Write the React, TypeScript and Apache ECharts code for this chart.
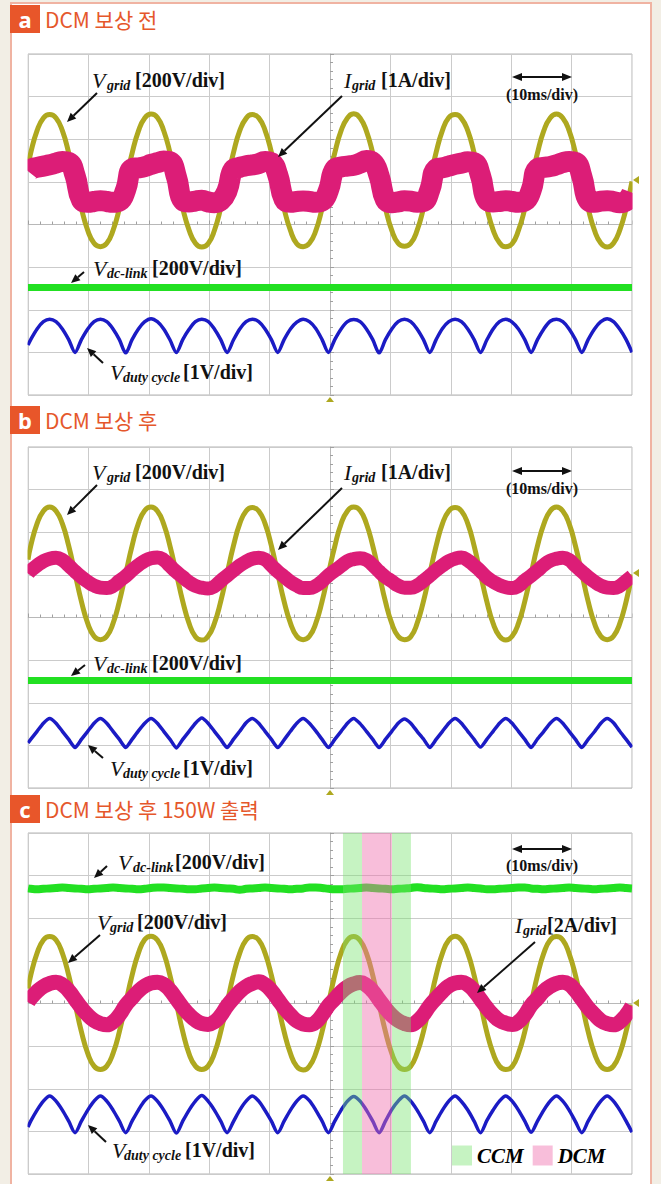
import React, { useEffect, useRef } from 'react';
import * as echarts from 'echarts';

// Sample times (ms, relative to screen centre) — 22.5° steps of the 60 Hz grid period, edges at the screen limits
const T = [
  -50.0, -49.55, -48.5, -47.45, -46.41, -45.36, -44.31, -43.26, -42.21, -41.16, -40.11, -39.06, -38.01, -36.96, -35.92, -34.87,
  -33.82, -32.77, -31.72, -30.67, -29.63, -28.58, -27.53, -26.48, -25.43, -24.38, -23.33, -22.28, -21.23, -20.19, -19.14, -18.09,
  -17.04, -15.99, -14.94, -13.89, -12.85, -11.8, -10.75, -9.7, -8.65, -7.6, -6.55, -5.5, -4.45, -3.41, -2.36, -1.31,
  -0.26, 0.79, 1.84, 2.89, 3.93, 4.98, 6.03, 7.08, 8.13, 9.18, 10.23, 11.28, 12.33, 13.37, 14.42, 15.47,
  16.52, 17.57, 18.62, 19.67, 20.71, 21.76, 22.81, 23.86, 24.91, 25.96, 27.01, 28.06, 29.1, 30.15, 31.2, 32.25,
  33.3, 34.35, 35.4, 36.45, 37.5, 38.54, 39.59, 40.64, 41.69, 42.74, 43.79, 44.84, 45.89, 46.93, 47.98, 49.03,
  50.0,
];

// Panel a (values in divisions)
const vGridA = [
  1.36, 1.68, 2.2, 2.5, 2.58, 2.5, 2.2, 1.68, 1.03, 0.38, -0.14, -0.44, -0.52, -0.44, -0.14, 0.38,
  1.03, 1.67, 2.19, 2.5, 2.59, 2.51, 2.2, 1.68, 1.03, 0.38, -0.13, -0.44, -0.53, -0.45, -0.14, 0.39,
  1.04, 1.68, 2.2, 2.49, 2.58, 2.5, 2.21, 1.69, 1.03, 0.37, -0.14, -0.45, -0.52, -0.44, -0.15, 0.38,
  1.03, 1.68, 2.2, 2.5, 2.6, 2.5, 2.19, 1.67, 1.02, 0.38, -0.14, -0.44, -0.51, -0.44, -0.14, 0.38,
  1.03, 1.69, 2.21, 2.51, 2.58, 2.49, 2.2, 1.68, 1.03, 0.39, -0.13, -0.43, -0.52, -0.45, -0.14, 0.37,
  1.03, 1.68, 2.2, 2.5, 2.59, 2.5, 2.2, 1.68, 1.04, 0.38, -0.14, -0.44, -0.53, -0.44, -0.13, 0.38,
  1.01,
];
const iGridA = [
  1.25, 1.3, 1.34, 1.37, 1.4, 1.44, 1.48, 1.46, 1.15, 0.58, 0.52, 0.54, 0.56, 0.54, 0.52, 0.55,
  0.82, 1.31, 1.33, 1.36, 1.41, 1.45, 1.49, 1.47, 1.12, 0.57, 0.53, 0.55, 0.57, 0.53, 0.51, 0.56,
  0.79, 1.29, 1.34, 1.38, 1.4, 1.43, 1.48, 1.45, 1.16, 0.59, 0.52, 0.54, 0.55, 0.54, 0.52, 0.55,
  0.8, 1.3, 1.35, 1.37, 1.39, 1.44, 1.5, 1.46, 1.14, 0.58, 0.51, 0.53, 0.56, 0.55, 0.52, 0.54,
  0.81, 1.3, 1.33, 1.37, 1.41, 1.44, 1.47, 1.45, 1.15, 0.58, 0.53, 0.54, 0.56, 0.54, 0.52, 0.55,
  0.8, 1.31, 1.34, 1.36, 1.4, 1.45, 1.48, 1.46, 1.13, 0.57, 0.52, 0.55, 0.56, 0.54, 0.51, 0.55,
  0.75,
];
const dutyA = [
  -2.83, -2.7, -2.45, -2.28, -2.22, -2.28, -2.45, -2.7, -3.0, -2.7, -2.45, -2.28, -2.22, -2.28, -2.45, -2.7,
  -3.01, -2.7, -2.45, -2.28, -2.21, -2.28, -2.45, -2.71, -3.0, -2.7, -2.46, -2.28, -2.22, -2.27, -2.45, -2.7,
  -3.0, -2.71, -2.45, -2.28, -2.22, -2.28, -2.45, -2.7, -3.0, -2.7, -2.45, -2.29, -2.22, -2.28, -2.44, -2.7,
  -3.0, -2.7, -2.45, -2.28, -2.23, -2.28, -2.45, -2.7, -3.01, -2.7, -2.45, -2.28, -2.22, -2.28, -2.45, -2.7,
  -3.0, -2.7, -2.44, -2.28, -2.22, -2.28, -2.45, -2.7, -3.0, -2.71, -2.45, -2.28, -2.22, -2.29, -2.45, -2.7,
  -3.0, -2.7, -2.45, -2.27, -2.22, -2.28, -2.45, -2.7, -3.0, -2.7, -2.45, -2.28, -2.21, -2.28, -2.46, -2.7,
  -3.0,
];
const DC_T = [-50, 50];
const dcLinkA = [-1.48, -1.48];

// Panel b
const vGridB = [
  1.36, 1.68, 2.2, 2.5, 2.59, 2.5, 2.2, 1.68, 1.03, 0.38, -0.14, -0.44, -0.52, -0.44, -0.14, 0.38,
  1.03, 1.68, 2.21, 2.51, 2.59, 2.5, 2.19, 1.67, 1.03, 0.38, -0.14, -0.45, -0.53, -0.44, -0.14, 0.38,
  1.03, 1.68, 2.2, 2.5, 2.58, 2.5, 2.2, 1.68, 1.03, 0.38, -0.13, -0.44, -0.52, -0.44, -0.14, 0.38,
  1.03, 1.67, 2.2, 2.5, 2.59, 2.51, 2.2, 1.68, 1.03, 0.37, -0.14, -0.44, -0.52, -0.45, -0.14, 0.38,
  1.03, 1.68, 2.2, 2.5, 2.58, 2.5, 2.2, 1.68, 1.02, 0.38, -0.14, -0.44, -0.53, -0.44, -0.14, 0.38,
  1.03, 1.68, 2.19, 2.5, 2.59, 2.5, 2.2, 1.68, 1.03, 0.38, -0.14, -0.44, -0.52, -0.44, -0.14, 0.38,
  1.01,
];
const iGridB = [
  1.03, 1.1, 1.22, 1.32, 1.38, 1.4, 1.35, 1.22, 1.08, 0.95, 0.84, 0.75, 0.7, 0.69, 0.74, 0.86,
  0.97, 1.11, 1.23, 1.33, 1.39, 1.41, 1.35, 1.21, 1.07, 0.95, 0.83, 0.74, 0.7, 0.68, 0.73, 0.86,
  0.98, 1.1, 1.22, 1.31, 1.38, 1.4, 1.36, 1.22, 1.08, 0.96, 0.84, 0.75, 0.69, 0.69, 0.74, 0.85,
  0.99, 1.1, 1.21, 1.32, 1.37, 1.39, 1.35, 1.23, 1.08, 0.95, 0.85, 0.75, 0.7, 0.7, 0.75, 0.86,
  0.98, 1.11, 1.22, 1.32, 1.38, 1.41, 1.34, 1.22, 1.09, 0.94, 0.84, 0.76, 0.71, 0.69, 0.74, 0.87,
  0.98, 1.1, 1.23, 1.33, 1.38, 1.4, 1.35, 1.21, 1.08, 0.95, 0.84, 0.75, 0.7, 0.69, 0.74, 0.86,
  0.97,
];
const dutyB = [
  -2.94, -2.86, -2.67, -2.48, -2.37, -2.48, -2.67, -2.86, -3.05, -2.86, -2.67, -2.48, -2.37, -2.48, -2.67, -2.86,
  -3.05, -2.86, -2.66, -2.48, -2.37, -2.48, -2.67, -2.86, -3.06, -2.86, -2.67, -2.48, -2.36, -2.48, -2.67, -2.86,
  -3.05, -2.86, -2.67, -2.47, -2.37, -2.48, -2.67, -2.86, -3.05, -2.87, -2.67, -2.48, -2.37, -2.48, -2.66, -2.86,
  -3.05, -2.86, -2.67, -2.48, -2.37, -2.49, -2.67, -2.86, -3.05, -2.86, -2.67, -2.48, -2.38, -2.48, -2.67, -2.85,
  -3.05, -2.86, -2.67, -2.48, -2.37, -2.48, -2.67, -2.86, -3.04, -2.86, -2.67, -2.48, -2.37, -2.48, -2.67, -2.86,
  -3.05, -2.85, -2.67, -2.48, -2.37, -2.48, -2.67, -2.86, -3.05, -2.86, -2.68, -2.48, -2.37, -2.47, -2.67, -2.86,
  -3.04,
];
const dcLinkB = [-1.48, -1.48];

// Panel c
const vGridC = [
  0.35, 0.66, 1.18, 1.49, 1.57, 1.49, 1.18, 0.66, 0.0, -0.66, -1.17, -1.47, -1.55, -1.47, -1.17, -0.66,
  0.01, 0.66, 1.18, 1.5, 1.58, 1.49, 1.18, 0.65, 0.0, -0.66, -1.18, -1.47, -1.55, -1.47, -1.17, -0.66,
  0.0, 0.67, 1.18, 1.49, 1.57, 1.49, 1.18, 0.66, 0.0, -0.66, -1.17, -1.48, -1.56, -1.47, -1.17, -0.66,
  0.0, 0.66, 1.19, 1.49, 1.57, 1.48, 1.18, 0.66, -0.01, -0.66, -1.17, -1.47, -1.55, -1.47, -1.16, -0.66,
  0.0, 0.66, 1.18, 1.49, 1.58, 1.49, 1.18, 0.66, 0.0, -0.67, -1.17, -1.47, -1.55, -1.48, -1.17, -0.66,
  0.0, 0.66, 1.18, 1.49, 1.57, 1.49, 1.17, 0.66, 0.0, -0.66, -1.17, -1.47, -1.55, -1.47, -1.17, -0.65,
  -0.03,
];
const iGridC = [
  0.03, 0.12, 0.28, 0.4, 0.47, 0.5, 0.44, 0.3, 0.1, -0.1, -0.27, -0.4, -0.47, -0.5, -0.43, -0.27,
  -0.04, 0.13, 0.29, 0.41, 0.48, 0.5, 0.45, 0.31, 0.11, -0.09, -0.26, -0.39, -0.47, -0.49, -0.43, -0.28,
  -0.06, 0.12, 0.28, 0.4, 0.47, 0.51, 0.44, 0.3, 0.1, -0.1, -0.27, -0.41, -0.48, -0.5, -0.44, -0.27,
  -0.05, 0.11, 0.27, 0.39, 0.46, 0.49, 0.43, 0.29, 0.09, -0.11, -0.28, -0.4, -0.47, -0.5, -0.42, -0.26,
  -0.05, 0.12, 0.28, 0.41, 0.48, 0.5, 0.44, 0.3, 0.1, -0.1, -0.27, -0.4, -0.46, -0.49, -0.43, -0.27,
  -0.04, 0.12, 0.29, 0.4, 0.47, 0.5, 0.45, 0.3, 0.1, -0.1, -0.26, -0.4, -0.47, -0.5, -0.43, -0.27,
  -0.06,
];
const dutyC = [
  -2.9, -2.76, -2.5, -2.29, -2.17, -2.29, -2.5, -2.76, -3.03, -2.76, -2.5, -2.29, -2.17, -2.29, -2.5, -2.76,
  -3.03, -2.76, -2.5, -2.28, -2.17, -2.29, -2.5, -2.76, -3.04, -2.76, -2.5, -2.29, -2.16, -2.29, -2.5, -2.76,
  -3.03, -2.77, -2.5, -2.29, -2.17, -2.29, -2.51, -2.76, -3.03, -2.76, -2.5, -2.29, -2.17, -2.28, -2.5, -2.76,
  -3.03, -2.76, -2.5, -2.29, -2.18, -2.29, -2.5, -2.76, -3.03, -2.76, -2.49, -2.29, -2.17, -2.29, -2.5, -2.76,
  -3.03, -2.76, -2.5, -2.29, -2.17, -2.3, -2.5, -2.76, -3.03, -2.75, -2.5, -2.29, -2.17, -2.29, -2.5, -2.76,
  -3.02, -2.76, -2.5, -2.29, -2.17, -2.29, -2.5, -2.77, -3.03, -2.76, -2.5, -2.29, -2.17, -2.29, -2.5, -2.76,
  -3.02,
];
const dcLinkC = [
  2.7, 2.69, 2.68, 2.69, 2.7, 2.71, 2.72, 2.71, 2.7, 2.69, 2.68, 2.69, 2.7, 2.71, 2.72, 2.71,
  2.7, 2.69, 2.68, 2.69, 2.71, 2.72, 2.72, 2.71, 2.7, 2.69, 2.68, 2.68, 2.7, 2.71, 2.72, 2.71,
  2.7, 2.69, 2.67, 2.69, 2.7, 2.71, 2.72, 2.71, 2.7, 2.69, 2.68, 2.69, 2.7, 2.72, 2.72, 2.71,
  2.69, 2.68, 2.68, 2.69, 2.7, 2.71, 2.72, 2.71, 2.7, 2.69, 2.68, 2.69, 2.7, 2.71, 2.73, 2.71,
  2.7, 2.69, 2.68, 2.69, 2.7, 2.71, 2.72, 2.71, 2.7, 2.68, 2.68, 2.69, 2.7, 2.71, 2.72, 2.72,
  2.7, 2.69, 2.68, 2.69, 2.7, 2.71, 2.72, 2.71, 2.7, 2.69, 2.68, 2.69, 2.7, 2.71, 2.72, 2.71,
  2.7,
];

// Operating-mode spans in panel c (ms)
const CCM_SPANS = [[2.15, 5.3], [10.26, 13.4]];
const DCM_SPANS = [[5.3, 10.26]];

const PANEL_LETTERS = ['a', 'b', 'c'];
const PANEL_TITLES = ['DCM 보상 전', 'DCM 보상 후', 'DCM 보상 후 150W 출력'];
const TIME_SCALE = '(10ms/div)';

const X_MIN = -50, X_MAX = 50, X_STEP = 10;
const Y_MIN = -4, Y_MAX = 4, Y_STEP = 1;

const OLIVE = '#aea81f';
const PINK = '#dc1d77';
const GREEN = '#22e022';
const BLUE = '#1b1bc4';
const SERIF = '"Liberation Serif", "Times New Roman", serif';

const GRID_TOPS = [54, 447, 833];
const GRID_LEFT = 28, GRID_W = 604, GRID_H = 341;

const zip = (ts: number[], vs: number[]) => ts.map((t, i) => [t, vs[i]]);

function lineSeries(gi: number, name: string, data: number[][], color: string, width: number, smooth: number | boolean, z: number) {
  return {
    type: 'line', name, xAxisIndex: gi, yAxisIndex: gi, data,
    symbol: 'none', showSymbol: false, smooth, silent: true, z,
    lineStyle: { color, width, join: 'round', cap: 'butt' },
    itemStyle: { color },
  };
}

function arrow(x1: number, y1: number, x2: number, y2: number) {
  const dx = x2 - x1, dy = y2 - y1, L = Math.hypot(dx, dy);
  const ux = dx / L, uy = dy / L, hl = 9, hw = 4;
  const bx = x2 - ux * hl, by = y2 - uy * hl;
  return [
    { type: 'line', z: 100, shape: { x1, y1, x2: bx, y2: by }, style: { stroke: '#111', lineWidth: 2 } },
    { type: 'polygon', z: 100, shape: { points: [[x2, y2], [bx - uy * hw, by + ux * hw], [bx + uy * hw, by - ux * hw]] }, style: { fill: '#111' } },
  ];
}

function dblArrow(xa: number, xb: number, y: number) {
  return [
    { type: 'line', z: 100, shape: { x1: xa + 8, y1: y, x2: xb - 8, y2: y }, style: { stroke: '#111', lineWidth: 2 } },
    { type: 'polygon', z: 100, shape: { points: [[xa, y], [xa + 10, y - 4], [xa + 10, y + 4]] }, style: { fill: '#111' } },
    { type: 'polygon', z: 100, shape: { points: [[xb, y], [xb - 10, y - 4], [xb - 10, y + 4]] }, style: { fill: '#111' } },
  ];
}

function label(mainX: number, subX: number, restX: number, y: number, main: string, sub: string, rest: string) {
  return [
    { type: 'text', z: 100, x: mainX, y, style: { text: main, fill: '#111', fontFamily: SERIF, fontStyle: 'italic', fontSize: 22, verticalAlign: 'middle' } },
    { type: 'text', z: 100, x: subX, y: y + 5, style: { text: sub, fill: '#111', fontFamily: SERIF, fontStyle: 'italic', fontWeight: 'bold', fontSize: 14, verticalAlign: 'middle' } },
    { type: 'text', z: 100, x: restX, y, style: { text: rest, fill: '#111', fontFamily: SERIF, fontWeight: 'bold', fontSize: 20, verticalAlign: 'middle' } },
  ];
}

function trigger(y: number, bottomY: number) {
  return [
    { type: 'polygon', z: 50, shape: { points: [[633, y], [639, y - 4], [639, y + 4]] }, style: { fill: OLIVE } },
    { type: 'polygon', z: 50, shape: { points: [[330, bottomY], [326, bottomY + 5], [334, bottomY + 5]] }, style: { fill: OLIVE } },
  ];
}

function buildOption() {
  const grids = GRID_TOPS.map((top) => ({
    left: GRID_LEFT, top, width: GRID_W, height: GRID_H,
    show: true, borderColor: '#b4b4b4', borderWidth: 1, containLabel: false,
  }));
  const axisCommon = {
    axisLabel: { show: false },
    axisLine: { show: true, onZero: true, lineStyle: { color: '#b8b8b8', width: 1 } },
    axisTick: { show: true, inside: true, length: 4, lineStyle: { color: '#a0a0a0' } },
    minorTick: { show: true, splitNumber: 5, length: 3, lineStyle: { color: '#a0a0a0' } },
    splitLine: { show: true, lineStyle: { color: '#cbcbcb', width: 1 } },
  };
  const xAxes = GRID_TOPS.map((_, i) => ({ type: 'value', gridIndex: i, min: X_MIN, max: X_MAX, interval: X_STEP, ...axisCommon }));
  const yAxes = GRID_TOPS.map((_, i) => ({ type: 'value', gridIndex: i, min: Y_MIN, max: Y_MAX, interval: Y_STEP, ...axisCommon }));

  const series: any[] = [
    lineSeries(0, 'Vgrid a', zip(T, vGridA), OLIVE, 5, true, 2),
    lineSeries(0, 'Igrid a', zip(T, iGridA), PINK, 21, 0.5, 3),
    lineSeries(0, 'Vdc a', zip(DC_T, dcLinkA), GREEN, 7, false, 2),
    lineSeries(0, 'Vduty a', zip(T, dutyA), BLUE, 3.5, 0.3, 2),
    lineSeries(1, 'Vgrid b', zip(T, vGridB), OLIVE, 5, true, 2),
    lineSeries(1, 'Igrid b', zip(T, iGridB), PINK, 14, true, 3),
    lineSeries(1, 'Vdc b', zip(DC_T, dcLinkB), GREEN, 7, false, 2),
    lineSeries(1, 'Vduty b', zip(T, dutyB), BLUE, 3.5, 0.2, 2),
    lineSeries(2, 'Vdc c', zip(T, dcLinkC), GREEN, 8, true, 2),
    lineSeries(2, 'Vgrid c', zip(T, vGridC), OLIVE, 5, true, 2),
    lineSeries(2, 'Igrid c', zip(T, iGridC), PINK, 15, true, 3),
    lineSeries(2, 'Vduty c', zip(T, dutyC), BLUE, 3.5, 0.3, 2),
  ];

  const spanSeries = (name: string, spans: number[][], color: string) => ({
    type: 'custom', name, xAxisIndex: 2, yAxisIndex: 2, z: 10, silent: true, clip: true,
    itemStyle: { color },
    data: spans,
    renderItem: (_p: any, api: any) => {
      const a = api.coord([api.value(0), Y_MAX]);
      const b = api.coord([api.value(1), Y_MIN]);
      return { type: 'rect', shape: { x: a[0], y: a[1], width: b[0] - a[0], height: b[1] - a[1] }, style: { fill: color } };
    },
  });
  series.push(spanSeries('CCM', CCM_SPANS, 'rgba(120,226,110,0.42)'));
  series.push(spanSeries('DCM', DCM_SPANS, 'rgba(240,110,172,0.45)'));

  const boxTops = [5, 406, 795];
  const g: any[] = [
    { type: 'rect', z: -10, shape: { x: 11, y: 3, width: 640, height: 1200 }, style: { fill: '#ffffff', stroke: '#f0b3a2', lineWidth: 2 } },
    // white margins beside the screens (hide stroke overhang of wide traces)
    { type: 'rect', z: 40, shape: { x: 12.5, y: 40, width: 15, height: 1144 }, style: { fill: '#ffffff' } },
    { type: 'rect', z: 40, shape: { x: 632.6, y: 40, width: 17.2, height: 1144 }, style: { fill: '#ffffff' } },
  ];
  boxTops.forEach((bt, i) => {
    g.push({ type: 'rect', z: 60, shape: { x: 10, y: bt, width: 30, height: 28 }, style: { fill: '#e8562a' } });
    g.push({ type: 'text', z: 61, x: 25, y: bt + 14, style: { text: PANEL_LETTERS[i], fill: '#fff', fontFamily: '"Noto Sans", sans-serif', fontWeight: 'bold', fontSize: 22, align: 'center', verticalAlign: 'middle' } });
    g.push({ type: 'text', z: 61, x: 45, y: bt + 14, style: { text: PANEL_TITLES[i], fill: '#e5572b', fontFamily: '"Noto Sans CJK KR", sans-serif', fontSize: 21, verticalAlign: 'middle' } });
  });

  // time scale markers
  [[77, 94], [471, 488], [849, 865]].forEach(([ay, ty]) => {
    g.push(...dblArrow(512, 572, ay));
    g.push({ type: 'text', z: 100, x: 542, y: ty, style: { text: TIME_SCALE, fill: '#111', fontFamily: SERIF, fontWeight: 'bold', fontSize: 16, align: 'center', verticalAlign: 'middle' } });
  });

  // panel a annotations
  g.push(...label(92, 107, 135, 80, 'V', 'grid', '[200V/div]'));
  g.push(...arrow(97, 93, 67, 122));
  g.push(...label(344, 352, 381, 80, 'I', 'grid', '[1A/div]'));
  g.push(...arrow(342, 96, 278, 157));
  g.push(...label(93, 107, 152, 268, 'V', 'dc-link', '[200V/div]'));
  g.push(...arrow(84, 272, 71, 283));
  g.push(...label(110, 123, 183, 372, 'V', 'duty cycle', '[1V/div]'));
  g.push(...arrow(103, 363, 87, 348));
  // panel b annotations
  g.push(...label(92, 107, 135, 472, 'V', 'grid', '[200V/div]'));
  g.push(...arrow(97, 485, 67, 515));
  g.push(...label(344, 352, 381, 472, 'I', 'grid', '[1A/div]'));
  g.push(...arrow(342, 488, 278, 550));
  g.push(...label(93, 107, 152, 663, 'V', 'dc-link', '[200V/div]'));
  g.push(...arrow(85, 665, 71, 676));
  g.push(...label(110, 123, 183, 768, 'V', 'duty cycle', '[1V/div]'));
  g.push(...arrow(103, 758, 88, 745));
  // panel c annotations
  g.push(...label(118, 133, 175, 862, 'V', 'dc-link', '[200V/div]'));
  g.push(...arrow(107, 866, 94, 878));
  g.push(...label(97, 110, 137, 922, 'V', 'grid', '[200V/div]'));
  g.push(...arrow(100, 935, 68, 963));
  g.push(...label(515, 523, 547, 925, 'I', 'grid', '[2A/div]'));
  g.push(...arrow(535, 942, 477, 993));
  g.push(...label(112, 124, 185, 1150, 'V', 'duty cycle', '[1V/div]'));
  g.push(...arrow(106, 1142, 88, 1125));

  g.push(...trigger(180, 397));
  g.push(...trigger(573, 790));
  g.push(...trigger(1003, 1176));

  return {
    animation: false,
    backgroundColor: '#f2eee5',
    grid: grids,
    xAxis: xAxes,
    yAxis: yAxes,
    legend: {
      show: true, data: ['CCM', 'DCM'], left: 452, top: 1145, padding: 0,
      itemWidth: 20, itemHeight: 20, itemGap: 9, icon: 'rect', selectedMode: false,
      inactiveColor: '#000',
      textStyle: { fontFamily: SERIF, fontStyle: 'italic', fontWeight: 'bold', fontSize: 21, color: '#000' },
    },
    series,
    graphic: { elements: g },
  };
}

export default function App() {
  const ref = useRef<HTMLDivElement>(null);
  useEffect(() => {
    const el = ref.current;
    if (!el) return;
    const chart = echarts.init(el, null, { renderer: 'svg' });
    chart.setOption(buildOption() as any);
    return () => chart.dispose();
  }, []);
  return <div ref={ref} style={{ position: 'absolute', left: 0, top: 0, width: 661, height: 1184 }} />;
}
